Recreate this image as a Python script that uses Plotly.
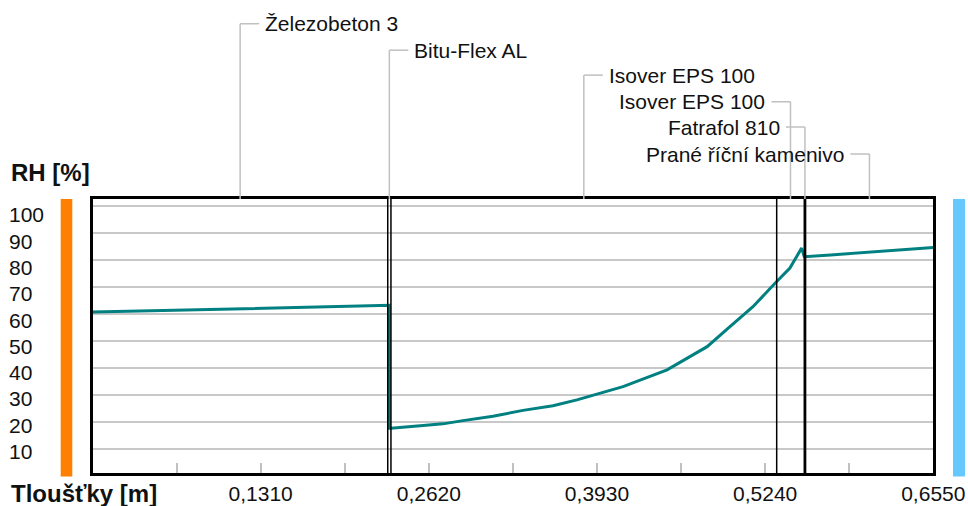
import plotly.graph_objects as go

# ---------------- data ----------------
layer_names = ["Železobeton 3", "Bitu-Flex AL", "Isover EPS 100",
               "Isover EPS 100", "Fatrafol 810", "Prané říční kamenivo"]
layer_bounds = [0.0, 0.23, 0.2325, 0.533, 0.5545, 0.5555, 0.655]

pos_m = [0.0, 0.2300, 0.2312, 0.2312, 0.2325, 0.2575, 0.2730, 0.2886, 0.3120,
         0.3354, 0.3587, 0.3774, 0.3940, 0.4133, 0.4476, 0.4788, 0.4966,
         0.5145, 0.5317, 0.5433, 0.5524, 0.5545, 0.5750, 0.6000, 0.6250, 0.6550]
rh_pct = [60.6, 63.1, 63.1, 17.6, 17.6, 18.6, 19.2, 20.4, 22.0,
          24.2, 25.9, 28.1, 30.3, 33.0, 39.2, 47.8, 55.2,
          62.6, 71.3, 76.9, 84.3, 81.1, 81.8, 82.6, 83.3, 84.5]

y_ticks = [10, 20, 30, 40, 50, 60, 70, 80, 90, 100]
y_tick_labels = ["10", "20", "30", "40", "50", "60", "70", "80", "90", "100"]
x_ticks = [0.0655, 0.1310, 0.1965, 0.2620, 0.3275, 0.3930, 0.4585, 0.5240, 0.5895, 0.6550]
x_tick_labels = ["", "0,1310", "", "0,2620", "", "0,3930", "", "0,5240", "", "0,6550"]

# ---------------- layout geometry ----------------
W, H = 968, 506
OFF = 0  # body margin is removed by the post script
TOP, BOTTOM = 199.0, 473.3          # plot box in screen pixels
PH = BOTTOM - TOP

def py(px):  # screen pixel y -> paper y
    return (BOTTOM - px) / PH

def pxx(px):  # screen pixel x -> paper x
    return (px - OFF) / W

label_y_px = [23.5, 50, 75, 101.7, 127, 154]
label_side = [1, 1, 1, -1, -1, -1]

REG = "Liberation Sans, Arial, sans-serif"
BOLD = "Liberation Sans, Arial, sans-serif"
FS = 21

fig = go.Figure()
fig.add_trace(go.Scatter(x=pos_m, y=rh_pct, mode="lines",
                         line=dict(color="#008080", width=3),
                         showlegend=False, hoverinfo="skip"))
fig.add_trace(go.Scatter(x=[None], y=[None], yaxis="y2", showlegend=False,
                         hoverinfo="skip"))

shapes = []
# layer boundaries
for b in layer_bounds[1:-1]:
    shapes.append(dict(type="line", xref="x", yref="paper", x0=b, x1=b, y0=0, y1=1,
                       line=dict(color="black", width=1.5)))
annotations = []
for i, name in enumerate(layer_names):
    mid = (layer_bounds[i] + layer_bounds[i + 1]) / 2
    ly = py(label_y_px[i])
    s = label_side[i]
    shapes.append(dict(type="line", xref="x", yref="paper", x0=mid, x1=mid, y0=1, y1=ly,
                       line=dict(color="#c0c0c0", width=1.5)))
    shapes.append(dict(type="line", xref="x", yref="paper", xsizemode="pixel", xanchor=mid,
                       x0=0, x1=19 * s, y0=ly, y1=ly,
                       line=dict(color="#c0c0c0", width=1.5)))
    annotations.append(dict(text=name, xref="x", yref="paper", x=mid, y=ly,
                            xshift=23 * s, xanchor="left" if s > 0 else "right",
                            yanchor="middle", showarrow=False,
                            font=dict(family=REG, size=FS, color="#111")))

# side colour bars
shapes.append(dict(type="rect", xref="paper", yref="paper", x0=pxx(60.7), x1=pxx(72.3),
                   y0=py(476.7), y1=1, fillcolor="#FF8000", line=dict(width=0), layer="below"))
shapes.append(dict(type="rect", xref="paper", yref="paper", x0=pxx(953), x1=pxx(965),
                   y0=py(476.7), y1=1, fillcolor="#66C8FF", line=dict(width=0), layer="below"))

annotations.append(dict(text="<b>RH [%]</b>", xref="paper", yref="paper", x=pxx(9), y=py(172),
                        xanchor="left", yanchor="middle", showarrow=False,
                        font=dict(family=BOLD, size=24, color="#111")))
annotations.append(dict(text="<b>Tloušťky [m]</b>", xref="paper", yref="paper", x=pxx(9),
                        y=py(494), xanchor="left", yanchor="middle", showarrow=False,
                        font=dict(family=BOLD, size=24, color="#111")))

fig.update_layout(
    width=W, height=H, autosize=False,
    margin=dict(l=0, r=0, t=TOP - OFF, b=H - (BOTTOM - OFF), pad=0, autoexpand=False),
    paper_bgcolor="white", plot_bgcolor="white",
    showlegend=False,
    xaxis=dict(domain=[pxx(92.5), pxx(933.3)], range=[0, 0.655], automargin=False,
               tickvals=x_ticks, ticktext=x_tick_labels,
               ticks="inside", ticklen=10, tickwidth=1.5, tickcolor="#c0c0c0",
               showgrid=False, zeroline=False,
               showline=True, linecolor="black", linewidth=2.5, mirror=True,
               tickfont=dict(family=REG, size=FS, color="#111")),
    yaxis=dict(range=[1.0, 102.5], tickvals=y_ticks, showticklabels=False, automargin=False,
               ticks="", showgrid=True, gridcolor="#c8c8c8", gridwidth=2,
               zeroline=False, showline=True, linecolor="black", linewidth=2.5,
               mirror=True),
    yaxis2=dict(overlaying="y", anchor="free", position=pxx(5), side="left", automargin=False,
                range=[1.91, 106.08], tickvals=y_ticks, ticktext=y_tick_labels,
                ticklabelposition="inside", ticks="", showgrid=False,
                showline=False, zeroline=False,
                tickfont=dict(family=REG, size=FS, color="#111")),
    shapes=shapes, annotations=annotations,
)

fig.write_html("out.html", config={"displayModeBar": False, "responsive": False},
               post_script="document.body.style.margin='0';document.body.style.overflow='hidden';")
